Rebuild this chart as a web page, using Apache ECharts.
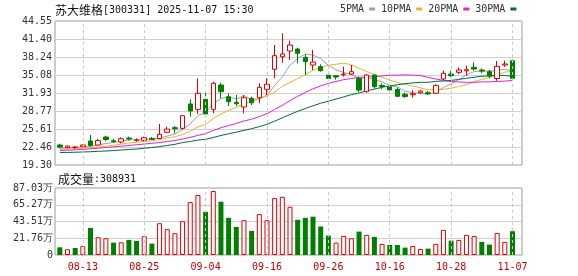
<!DOCTYPE html>
<html><head><meta charset="utf-8">
<script src="https://cdn.jsdelivr.net/npm/echarts@6/dist/echarts.min.js"></script>
<style>html,body{margin:0;padding:0;background:#fff}#c{width:578px;height:276px}</style>
</head><body><div id="c"></div>
<script>
const dates = ['08-08','08-11','08-12','08-13','08-14','08-15','08-18','08-19','08-20','08-21',
  '08-22','08-25','08-26','08-27','08-28','08-29','09-01','09-02','09-03','09-04',
  '09-05','09-08','09-09','09-10','09-11','09-12','09-15','09-16','09-17','09-18',
  '09-19','09-22','09-23','09-24','09-25','09-26','09-29','09-30','10-09','10-10',
  '10-13','10-14','10-15','10-16','10-17','10-20','10-21','10-22','10-23','10-24',
  '10-27','10-28','10-29','10-30','10-31','11-03','11-04','11-05','11-06','11-07'];
const opens = [22.80,22.34,22.40,22.51,23.51,22.81,24.21,23.56,23.33,24.03,
  23.62,23.63,23.97,23.95,25.03,25.85,25.73,30.00,29.06,30.82,
  29.07,33.33,31.27,30.29,29.47,31.00,31.10,32.57,36.08,38.29,
  39.29,39.64,38.18,36.83,36.54,35.06,34.96,35.13,35.25,34.47,
  32.15,35.08,33.25,33.03,32.57,31.69,31.63,31.97,31.98,31.87,
  34.38,35.25,35.55,35.80,36.42,35.96,35.66,34.47,36.83,37.57];
const closes = [22.45,22.63,22.45,22.81,22.70,23.58,23.77,23.39,23.91,23.86,
  23.68,24.09,23.80,24.68,25.60,25.65,27.94,28.77,31.87,28.24,
  33.63,32.15,30.39,30.05,31.10,30.20,32.92,33.45,38.47,38.76,
  40.34,38.88,37.41,37.36,35.83,34.47,34.73,35.25,35.66,32.43,
  35.08,33.03,33.08,32.45,31.34,31.30,31.80,32.27,31.80,33.21,
  35.37,34.96,35.96,36.00,36.13,35.78,34.90,36.60,37.01,34.50];
const lows = [22.23,22.22,22.10,22.45,22.50,22.70,23.46,23.21,23.09,23.56,
  23.39,23.45,23.68,23.86,24.90,24.85,25.49,27.77,28.24,27.89,
  28.37,30.99,29.64,29.64,28.36,29.82,30.12,31.57,34.50,37.24,
  37.71,37.13,35.08,35.96,35.68,34.30,34.27,34.79,35.08,32.10,
  32.00,32.70,32.60,32.30,31.20,31.10,31.10,31.80,31.57,31.75,
  34.20,34.70,35.25,34.96,35.84,35.40,34.50,34.08,36.50,34.40];
const highs = [23.03,22.69,22.55,22.92,24.56,23.90,24.44,23.86,24.16,24.26,
  23.97,24.26,24.21,26.50,26.02,26.13,28.07,30.82,34.50,31.98,
  33.91,33.73,31.87,31.58,31.57,31.28,33.62,34.50,40.34,42.39,
  41.10,39.87,38.71,39.46,36.96,35.66,35.06,36.54,36.83,34.79,
  35.20,35.25,33.60,33.30,32.90,32.00,32.40,32.50,32.27,33.45,
  35.83,35.83,36.42,36.71,37.30,36.25,35.96,37.54,37.60,37.80];
const ma5 = [22.23,22.30,22.38,22.48,22.61,22.83,23.06,23.25,23.47,23.70,
  23.72,23.79,23.87,24.02,24.37,24.76,25.53,26.53,27.97,28.49,
  30.09,30.93,31.26,30.89,31.46,30.78,30.93,31.54,33.23,34.76,
  36.79,37.98,38.77,38.55,37.96,36.79,35.96,35.53,35.19,34.51,
  34.63,34.29,33.86,33.21,33.00,32.24,31.99,31.83,31.70,32.08,
  32.89,33.52,34.26,35.10,35.68,35.77,35.75,35.88,36.08,35.76];
const ma10 = [22.05,22.10,22.16,22.24,22.33,22.45,22.60,22.75,22.95,23.16,
  23.28,23.42,23.56,23.75,24.04,24.24,24.66,25.20,25.99,26.43,
  27.43,28.23,28.89,29.43,29.98,30.43,30.93,31.40,32.06,33.11,
  33.78,34.46,35.16,35.89,36.36,36.79,36.97,37.15,36.87,36.24,
  35.71,35.13,34.69,34.20,33.75,33.44,33.14,32.84,32.46,32.54,
  32.57,32.76,33.05,33.40,33.88,34.33,34.64,35.07,35.59,35.72];
const ma20 = [21.84,21.89,21.96,22.05,22.15,22.25,22.37,22.48,22.60,22.72,
  22.85,22.97,23.10,23.25,23.42,23.60,23.85,24.15,24.50,24.79,
  25.35,25.83,26.22,26.59,27.01,27.34,27.79,28.30,29.03,29.77,
  30.60,31.34,32.02,32.66,33.17,33.61,33.95,34.27,34.46,34.67,
  34.74,34.78,34.92,35.04,35.05,35.11,35.05,34.99,34.66,34.38,
  34.13,33.93,33.86,33.79,33.81,33.87,33.88,33.95,34.01,34.12];
const ma30 = [21.49,21.51,21.54,21.58,21.63,21.70,21.75,21.84,21.93,22.02,
  22.10,22.23,22.37,22.54,22.72,22.93,23.24,23.42,23.68,23.80,
  24.13,24.48,24.77,25.06,25.37,25.66,26.04,26.43,26.99,27.57,
  28.16,28.71,29.20,29.69,30.13,30.49,30.86,31.25,31.64,31.93,
  32.31,32.61,32.92,33.18,33.37,33.56,33.69,33.80,33.80,33.97,
  34.03,34.12,34.31,34.51,34.68,34.86,34.93,35.03,34.99,34.84];
const volumes = [100000,74000,91000,117000,352000,231000,217000,161000,165000,196000,
  183000,244000,148000,413000,335000,283000,439000,687000,779000,561000,
  831000,692000,483000,365000,452000,313000,531000,452000,739000,757000,
  626000,457000,483000,498000,370000,252000,161000,248000,217000,304000,
  261000,235000,144000,130000,130000,96000,117000,78000,83000,144000,
  326000,187000,196000,261000,248000,170000,135000,287000,170000,308931];
const volDir = [-1,1,-1,1,-1,1,1,-1,1,-1, -1,1,-1,1,1,1,1,1,1,-1,
  1,-1,-1,-1,1,-1,1,1,1,1, 1,-1,-1,-1,-1,-1,1,1,1,-1,
  1,-1,1,-1,-1,-1,1,1,-1,1, 1,-1,1,1,1,-1,-1,1,1,-1];
const priceTicks = ['19.30','22.46','25.61','28.77','31.93','35.08','38.24','41.40','44.55'];
const volTicks = ['0','21.76万','43.51万','65.27万','87.03万'];
const volMax = 870300;
const labelDates = ['08-13','08-25','09-04','09-16','09-26','10-16','10-28','11-07'];
const maNames = ['5PMA','10PMA','20PMA','30PMA'];
const titleName = '苏大维格';
const titleRest = '[300331] 2025-11-07 15:30';
const volTitle = '成交量';
const lastVol = '308931';

const MONO = 'DejaVu Sans Mono';
const CJK = 'Noto Sans CJK SC';
const UP = '#e00000', DOWN = '#008000';
const maColors = ['#a0a0a0', '#e5b72a', '#e020e0', '#006848'];
const xCats = dates.concat(['']);
const priceMin = parseFloat(priceTicks[0]);
const priceMax = parseFloat(priceTicks[priceTicks.length - 1]);
const vIdx = labelDates.map(d => ({ xAxis: dates.indexOf(d) }));
const markLineCfg = {
  silent: true, symbol: ['none', 'none'], label: { show: false },
  lineStyle: { color: '#c8c8c8', type: [3, 3], width: 1 }, data: vIdx, animation: false
};

const chart = echarts.init(document.getElementById('c'), null, { renderer: 'canvas' });
const frameGrid = (top, h) => ({ left: 55, top: top, width: 467, height: h, show: true, borderColor: '#999', borderWidth: 1, backgroundColor: '#fff' });
const dataGrid = (top, h) => ({ left: 56, top: top, width: 468, height: h, show: false });
const richTitle = {
  a: { fontFamily: CJK, fontSize: 12, fontWeight: 'normal', color: '#111', lineHeight: 14 },
  b: { fontFamily: MONO, fontSize: 10, fontWeight: 'normal', color: '#111', lineHeight: 14 }
};

const option = {
  animation: false,
  title: [
    { left: 55, top: 3, padding: 0,
      text: '{a|' + titleName + '}{b|' + titleRest + '}',
      textStyle: { fontWeight: 'normal', rich: richTitle } },
    { left: 58, top: 172, padding: 0,
      text: '{a|' + volTitle + '}{b|:' + lastVol + '}',
      textStyle: { fontWeight: 'normal', rich: richTitle } }
  ],
  legend: {
    data: maNames, left: 340, top: 3, padding: 0, itemGap: 6, align: 'right',
    icon: 'rect', itemWidth: 6, itemHeight: 3, selectedMode: false,
    textStyle: { fontFamily: MONO, fontSize: 10, color: '#333', lineHeight: 12 }
  },
  grid: [frameGrid(21, 144), dataGrid(21, 144), frameGrid(188, 67), dataGrid(188, 67)],
  xAxis: [
    { gridIndex: 0, type: 'value', min: 0, max: 1, show: false },
    { gridIndex: 1, type: 'category', data: xCats, boundaryGap: true,
      axisLine: { show: false }, axisTick: { show: false }, axisLabel: { show: false }, splitLine: { show: false } },
    { gridIndex: 2, type: 'value', min: 0, max: 1, show: false },
    { gridIndex: 3, type: 'category', data: xCats, boundaryGap: true,
      axisLine: { show: false }, axisTick: { show: false }, splitLine: { show: false },
      axisLabel: { show: true, interval: (i, v) => labelDates.indexOf(v) >= 0,
        color: '#cc0000', fontFamily: MONO, fontSize: 10, margin: 7 } }
  ],
  yAxis: [
    { gridIndex: 0, type: 'value', min: 0, max: priceTicks.length - 1, interval: 1,
      axisLine: { show: false }, axisTick: { show: false },
      splitLine: { show: true, lineStyle: { color: '#d0d0d0', width: 1 } },
      axisLabel: { formatter: v => priceTicks[Math.round(v)], color: '#333', fontFamily: MONO, fontSize: 10, margin: 3 } },
    { gridIndex: 1, type: 'value', min: priceMin, max: priceMax, show: false, splitLine: { show: false } },
    { gridIndex: 2, type: 'value', min: 0, max: volTicks.length - 1, interval: 1,
      axisLine: { show: false }, axisTick: { show: false },
      splitLine: { show: true, lineStyle: { color: '#d0d0d0', width: 1 } },
      axisLabel: { formatter: v => volTicks[Math.round(v)], color: '#333', fontFamily: MONO, fontSize: 10, margin: 2 } },
    { gridIndex: 3, type: 'value', min: 0, max: volMax, show: false, splitLine: { show: false } }
  ],
  series: [
    ...[ma5, ma10, ma20, ma30].map((arr, k) => ({
      name: maNames[k], type: 'line', xAxisIndex: 1, yAxisIndex: 1, data: arr,
      color: maColors[k], showSymbol: false, symbol: 'none', smooth: false,
      lineStyle: { color: maColors[k], width: 1 }, z: 2
    })),
    { type: 'candlestick', xAxisIndex: 1, yAxisIndex: 1, barWidth: 5, z: 3,
      data: dates.map((d, i) => [opens[i], closes[i], lows[i], highs[i]]),
      itemStyle: { color: '#ffffff', color0: DOWN, borderColor: UP, borderColor0: DOWN, borderWidth: 1 },
      markLine: markLineCfg },
    { type: 'bar', xAxisIndex: 3, yAxisIndex: 3, barWidth: 5, z: 3,
      data: volumes.map((v, i) => ({ value: v,
        itemStyle: volDir[i] > 0 ? { color: '#ffffff', borderColor: UP, borderWidth: 1 } : { color: DOWN, borderColor: DOWN, borderWidth: 0 } })),
      markLine: markLineCfg }
  ]
};
chart.setOption(option);
</script>
</body></html>
